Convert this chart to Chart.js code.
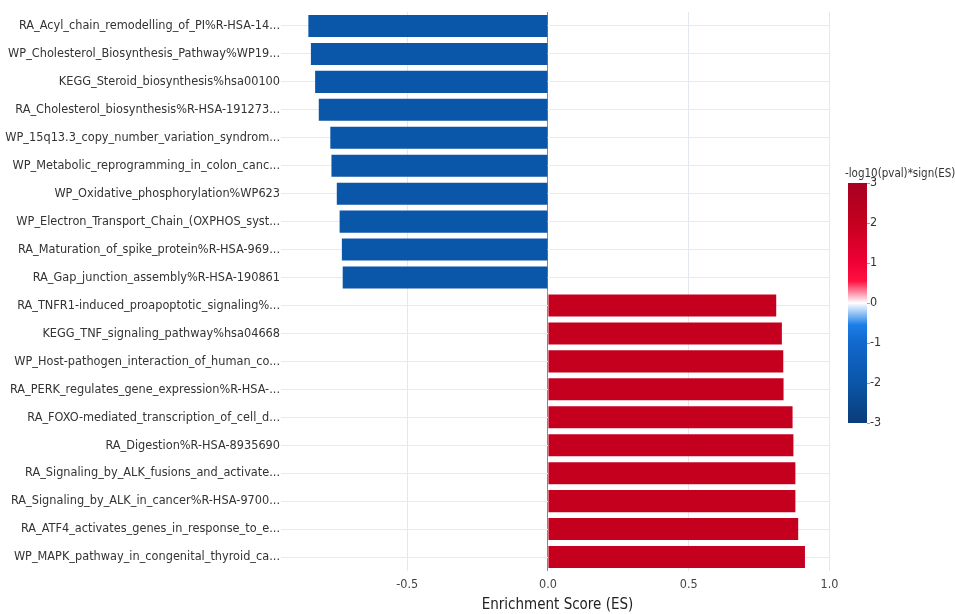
<!DOCTYPE html>
<html>
<head>
<meta charset="utf-8">
<script src="https://cdn.jsdelivr.net/npm/chart.js@4.4.1/dist/chart.umd.min.js"></script>
<style>
  html, body { margin: 0; padding: 0; background: #ffffff; }
  #wrap { width: 955px; height: 614px; position: relative; }
</style>
</head>
<body>
<div id="wrap"><canvas id="chart" width="955" height="614"></canvas></div>
<script>
// Gene-set enrichment: pathway names (top to bottom)
const categories = [
  "RA_Acyl_chain_remodelling_of_PI%R-HSA-14...",
  "WP_Cholesterol_Biosynthesis_Pathway%WP19...",
  "KEGG_Steroid_biosynthesis%hsa00100",
  "RA_Cholesterol_biosynthesis%R-HSA-191273...",
  "WP_15q13.3_copy_number_variation_syndrom...",
  "WP_Metabolic_reprogramming_in_colon_canc...",
  "WP_Oxidative_phosphorylation%WP623",
  "WP_Electron_Transport_Chain_(OXPHOS_syst...",
  "RA_Maturation_of_spike_protein%R-HSA-969...",
  "RA_Gap_junction_assembly%R-HSA-190861",
  "RA_TNFR1-induced_proapoptotic_signaling%...",
  "KEGG_TNF_signaling_pathway%hsa04668",
  "WP_Host-pathogen_interaction_of_human_co...",
  "RA_PERK_regulates_gene_expression%R-HSA-...",
  "RA_FOXO-mediated_transcription_of_cell_d...",
  "RA_Digestion%R-HSA-8935690",
  "RA_Signaling_by_ALK_fusions_and_activate...",
  "RA_Signaling_by_ALK_in_cancer%R-HSA-9700...",
  "RA_ATF4_activates_genes_in_response_to_e...",
  "WP_MAPK_pathway_in_congenital_thyroid_ca..."
];

// Enrichment score of each pathway
const esValues = [
  -0.851, -0.842, -0.827, -0.814, -0.773, -0.769, -0.750, -0.740, -0.732, -0.729,
   0.811,  0.831,  0.836,  0.837,  0.869,  0.872,  0.879,  0.879,  0.889,  0.913
];

// -log10(pval) * sign(ES), used for bar colour
const signedLogP = [
  -2.0, -2.0, -2.0, -2.0, -2.0, -2.0, -2.0, -2.0, -2.0, -2.0,
   2.0,  2.0,  2.0,  2.0,  2.0,  2.0,  2.0,  2.0,  2.0,  2.0
];

// Axis ticks
const xTicks = [-0.5, 0.0, 0.5, 1.0];
const colorbarTicks = [3, 2, 1, 0, -1, -2, -3];

// Diverging colour scale (value, colour)
const colorStops = [
  [-3.0, [10, 60, 120]],
  [-2.0, [10, 86, 168]],
  [-1.0, [18, 104, 204]],
  [-0.55, [26, 126, 232]],
  [0.0, [255, 255, 255]],
  [0.55, [255, 16, 64]],
  [1.0, [240, 0, 54]],
  [2.0, [197, 0, 31]],
  [3.0, [168, 0, 34]]
];

const FONT = "'DejaVu Sans Condensed', 'DejaVu Sans', sans-serif";
const CB_MIN = -3, CB_MAX = 3;

function colorAt(v) {
  if (v <= colorStops[0][0]) return colorStops[0][1];
  for (let i = 1; i < colorStops.length; i++) {
    const [v1, c1] = colorStops[i];
    const [v0, c0] = colorStops[i - 1];
    if (v <= v1) {
      const t = (v - v0) / (v1 - v0);
      return c0.map((c, k) => Math.round(c + (c1[k] - c) * t));
    }
  }
  return colorStops[colorStops.length - 1][1];
}
function rgb(c) { return `rgb(${c[0]},${c[1]},${c[2]})`; }

// Colour bar drawn beside the plot
const colorbarPlugin = {
  id: 'colorbar',
  afterDraw(chart) {
    const ctx = chart.ctx;
    const x = 848, w = 19, top = 183, bottom = 423;
    const grad = ctx.createLinearGradient(0, bottom, 0, top);
    colorStops.forEach(([v, c]) => {
      grad.addColorStop((v - CB_MIN) / (CB_MAX - CB_MIN), rgb(c));
    });
    ctx.save();
    ctx.fillStyle = grad;
    ctx.fillRect(x, top, w, bottom - top);
    ctx.strokeStyle = '#9aa3ad';
    ctx.lineWidth = 1;
    ctx.font = `12.5px ${FONT}`;
    ctx.fillStyle = '#333';
    ctx.textBaseline = 'middle';
    ctx.textAlign = 'left';
    colorbarTicks.forEach(v => {
      const y = bottom - (v - CB_MIN) / (CB_MAX - CB_MIN) * (bottom - top);
      ctx.beginPath();
      ctx.moveTo(x + w, Math.round(y) + 0.5);
      ctx.lineTo(x + w + 3, Math.round(y) + 0.5);
      ctx.stroke();
      ctx.fillText(String(v), x + w + 3, y);
    });
    ctx.font = `11.5px ${FONT}`;
    ctx.textBaseline = 'alphabetic';
    ctx.fillText('-log10(pval)*sign(ES)', 845, 177);
    ctx.restore();
  }
};

new Chart(document.getElementById('chart'), {
  type: 'bar',
  data: {
    labels: categories,
    datasets: [{
      data: esValues,
      backgroundColor: signedLogP.map(v => rgb(colorAt(v))),
      borderWidth: 0,
      categoryPercentage: 1.0,
      barPercentage: 0.79
    }]
  },
  options: {
    indexAxis: 'y',
    responsive: false,
    animation: false,
    layout: { padding: { top: 12, right: 125, bottom: 0, left: 0 } },
    plugins: { legend: { display: false }, tooltip: { enabled: false } },
    scales: {
      x: {
        min: -0.934,
        max: 1.002,
        afterBuildTicks: axis => { axis.ticks = xTicks.map(v => ({ value: v })); },
        grid: {
          drawTicks: false,
          color: ctx => (ctx.tick && ctx.tick.value === 0 ? '#7d8896' : '#e3e8ef'),
          lineWidth: 1
        },
        border: { display: false },
        ticks: {
          padding: 6,
          color: '#444',
          font: { family: FONT, size: 12.5 },
          callback: v => Number(v).toFixed(1)
        },
        title: {
          display: true,
          text: 'Enrichment Score (ES)',
          color: '#222',
          font: { family: FONT, size: 15 },
          padding: { top: -2, bottom: 0 }
        }
      },
      y: {
        afterFit: scale => { scale.width = 285; },
        grid: { drawTicks: true, tickLength: 4, offset: false, color: '#e6ebf1', lineWidth: 1 },
        border: { display: false },
        ticks: {
          padding: 1,
          color: '#333',
          autoSkip: false,
          font: { family: FONT, size: 12.6 }
        }
      }
    }
  },
  plugins: [colorbarPlugin]
});
</script>
</body>
</html>
